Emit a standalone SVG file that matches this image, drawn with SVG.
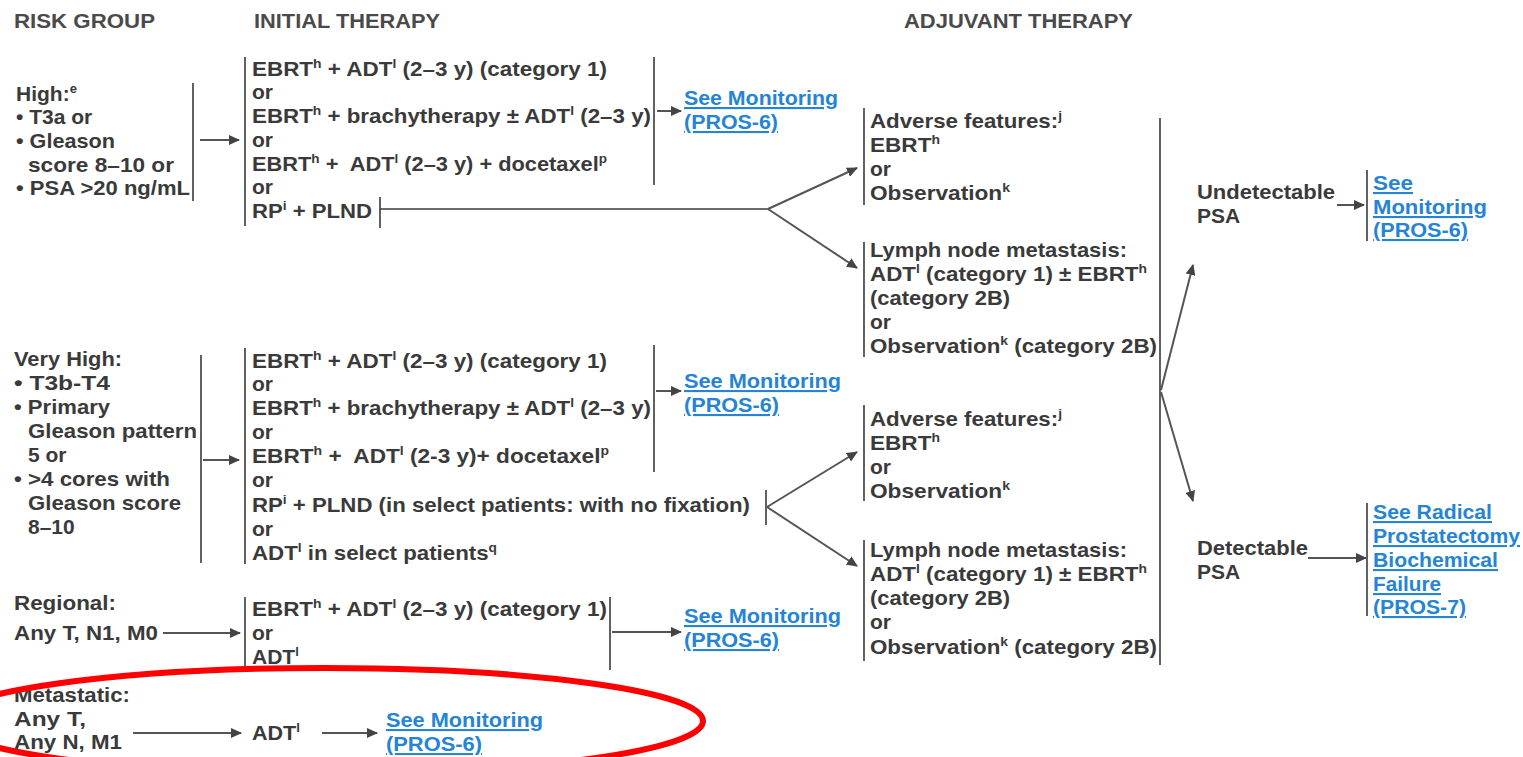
<svg xmlns="http://www.w3.org/2000/svg" width="1523" height="757" viewBox="0 0 1523 757">
<style>
.t{font-family:"Liberation Sans",Arial,sans-serif;font-size:21px;font-weight:bold;fill:#3a3a3a}
.hd{font-family:"Liberation Sans",Arial,sans-serif;font-size:21px;font-weight:bold;fill:#4a4a4a}
.lk{fill:#2584d6;text-decoration:underline}
.s{font-size:13px}
.br{stroke:#3a3a3a;stroke-width:1.6;fill:none}
.ar{stroke:#555;stroke-width:2;fill:none;marker-end:url(#ah)}
.ring{fill:none;stroke:#ff0000;stroke-width:6}
</style>
<defs>
<marker id="ah" markerUnits="userSpaceOnUse" markerWidth="11" markerHeight="10" refX="10" refY="5" orient="auto">
<path d="M0,0 L11,5 L0,10 z" fill="#444"/>
</marker>
</defs>
<rect width="1523" height="757" fill="#ffffff"/>

<g id="headers">
<text class="hd" x="14" y="28" textLength="141" lengthAdjust="spacingAndGlyphs">RISK GROUP</text>
<text class="hd" x="254" y="28" textLength="186" lengthAdjust="spacingAndGlyphs">INITIAL THERAPY</text>
<text class="hd" x="904" y="28" textLength="229" lengthAdjust="spacingAndGlyphs">ADJUVANT THERAPY</text>
</g>

<g id="risk-high">
<text class="t" x="16" y="101">High:<tspan class="s" dy="-8">e</tspan></text>
<text class="t" x="16" y="124">• T3a or</text>
<text class="t" x="16" y="148" textLength="99" lengthAdjust="spacingAndGlyphs">• Gleason</text>
<text class="t" x="28" y="172" textLength="146" lengthAdjust="spacingAndGlyphs">score 8–10 or</text>
<text class="t" x="16" y="195" textLength="174" lengthAdjust="spacingAndGlyphs">• PSA &gt;20 ng/mL</text>
<line class="br" x1="193" y1="83" x2="193" y2="201"/>
</g>

<g id="therapy-high">
<line class="br" x1="245" y1="57" x2="245" y2="226"/>
<text class="t" x="252" y="76" textLength="355" lengthAdjust="spacingAndGlyphs">EBRT<tspan class="s" dy="-8">h</tspan><tspan dy="8"> + ADT</tspan><tspan class="s" dy="-8">l</tspan><tspan dy="8"> (2–3 y) (category 1)</tspan></text>
<text class="t" x="252" y="99">or</text>
<text class="t" x="252" y="123" textLength="399" lengthAdjust="spacingAndGlyphs">EBRT<tspan class="s" dy="-8">h</tspan><tspan dy="8"> + brachytherapy ± ADT</tspan><tspan class="s" dy="-8">l</tspan><tspan dy="8"> (2–3 y)</tspan></text>
<text class="t" x="252" y="147">or</text>
<text class="t" x="252" y="171" textLength="355" lengthAdjust="spacingAndGlyphs">EBRT<tspan class="s" dy="-8">h</tspan><tspan dy="8"> +&#160; ADT</tspan><tspan class="s" dy="-8">l</tspan><tspan dy="8"> (2–3 y) + docetaxel</tspan><tspan class="s" dy="-8">p</tspan></text>
<text class="t" x="252" y="194">or</text>
<text class="t" x="252" y="218" textLength="120" lengthAdjust="spacingAndGlyphs">RP<tspan class="s" dy="-8">i</tspan><tspan dy="8"> + PLND</tspan></text>
<line class="br" x1="654" y1="57" x2="654" y2="185"/>
<line class="br" x1="380" y1="197" x2="380" y2="228"/>
</g>

<g id="mon-high">
<text class="t lk" x="684" y="105" textLength="154" lengthAdjust="spacingAndGlyphs">See Monitoring</text>
<text class="t lk" x="684" y="129" textLength="94" lengthAdjust="spacingAndGlyphs">(PROS-6)</text>
</g>

<g id="adverse-1">
<line class="br" x1="864" y1="108" x2="864" y2="205"/>
<text class="t" x="870" y="128" textLength="192" lengthAdjust="spacingAndGlyphs">Adverse features:<tspan class="s" dy="-8">j</tspan></text>
<text class="t" x="870" y="152" textLength="70" lengthAdjust="spacingAndGlyphs">EBRT<tspan class="s" dy="-8">h</tspan></text>
<text class="t" x="870" y="176">or</text>
<text class="t" x="870" y="200" textLength="140" lengthAdjust="spacingAndGlyphs">Observation<tspan class="s" dy="-8">k</tspan></text>
</g>

<g id="lymph-1">
<line class="br" x1="864" y1="242" x2="864" y2="357"/>
<text class="t" x="870" y="257" textLength="257" lengthAdjust="spacingAndGlyphs">Lymph node metastasis:</text>
<text class="t" x="870" y="281" textLength="277" lengthAdjust="spacingAndGlyphs">ADT<tspan class="s" dy="-8">l</tspan><tspan dy="8"> (category 1) ± EBRT</tspan><tspan class="s" dy="-8">h</tspan></text>
<text class="t" x="870" y="305" textLength="140" lengthAdjust="spacingAndGlyphs">(category 2B)</text>
<text class="t" x="870" y="329">or</text>
<text class="t" x="870" y="353" textLength="287" lengthAdjust="spacingAndGlyphs">Observation<tspan class="s" dy="-8">k</tspan><tspan dy="8"> (category 2B)</tspan></text>
</g>

<g id="risk-veryhigh">
<text class="t" x="14" y="366" textLength="108" lengthAdjust="spacingAndGlyphs">Very High:</text>
<text class="t" x="14" y="390" textLength="96" lengthAdjust="spacingAndGlyphs">• T3b-T4</text>
<text class="t" x="14" y="414" textLength="96" lengthAdjust="spacingAndGlyphs">• Primary</text>
<text class="t" x="28" y="438" textLength="169" lengthAdjust="spacingAndGlyphs">Gleason pattern</text>
<text class="t" x="28" y="462">5 or</text>
<text class="t" x="14" y="486" textLength="156" lengthAdjust="spacingAndGlyphs">• &gt;4 cores with</text>
<text class="t" x="28" y="510" textLength="153" lengthAdjust="spacingAndGlyphs">Gleason score</text>
<text class="t" x="28" y="534">8–10</text>
<line class="br" x1="201" y1="355" x2="201" y2="563"/>
</g>

<g id="therapy-veryhigh">
<line class="br" x1="245" y1="348" x2="245" y2="564"/>
<text class="t" x="252" y="368" textLength="355" lengthAdjust="spacingAndGlyphs">EBRT<tspan class="s" dy="-8">h</tspan><tspan dy="8"> + ADT</tspan><tspan class="s" dy="-8">l</tspan><tspan dy="8"> (2–3 y) (category 1)</tspan></text>
<text class="t" x="252" y="391">or</text>
<text class="t" x="252" y="415" textLength="399" lengthAdjust="spacingAndGlyphs">EBRT<tspan class="s" dy="-8">h</tspan><tspan dy="8"> + brachytherapy ± ADT</tspan><tspan class="s" dy="-8">l</tspan><tspan dy="8"> (2–3 y)</tspan></text>
<text class="t" x="252" y="439">or</text>
<text class="t" x="252" y="463" textLength="357" lengthAdjust="spacingAndGlyphs">EBRT<tspan class="s" dy="-8">h</tspan><tspan dy="8"> +&#160; ADT</tspan><tspan class="s" dy="-8">l</tspan><tspan dy="8"> (2-3 y)+ docetaxel</tspan><tspan class="s" dy="-8">p</tspan></text>
<text class="t" x="252" y="487">or</text>
<text class="t" x="252" y="512" textLength="498" lengthAdjust="spacingAndGlyphs">RP<tspan class="s" dy="-8">i</tspan><tspan dy="8"> + PLND (in select patients: with no fixation)</tspan></text>
<text class="t" x="252" y="536">or</text>
<text class="t" x="252" y="560" textLength="245" lengthAdjust="spacingAndGlyphs">ADT<tspan class="s" dy="-8">l</tspan><tspan dy="8"> in select patients</tspan><tspan class="s" dy="-8">q</tspan></text>
<line class="br" x1="654" y1="345" x2="654" y2="472"/>
<line class="br" x1="766" y1="490" x2="766" y2="525"/>
</g>

<g id="mon-veryhigh">
<text class="t lk" x="684" y="388" textLength="157" lengthAdjust="spacingAndGlyphs">See Monitoring</text>
<text class="t lk" x="684" y="412" textLength="95" lengthAdjust="spacingAndGlyphs">(PROS-6)</text>
</g>

<g id="adverse-2">
<line class="br" x1="864" y1="405" x2="864" y2="501"/>
<text class="t" x="870" y="426" textLength="192" lengthAdjust="spacingAndGlyphs">Adverse features:<tspan class="s" dy="-8">j</tspan></text>
<text class="t" x="870" y="450" textLength="70" lengthAdjust="spacingAndGlyphs">EBRT<tspan class="s" dy="-8">h</tspan></text>
<text class="t" x="870" y="474">or</text>
<text class="t" x="870" y="498" textLength="140" lengthAdjust="spacingAndGlyphs">Observation<tspan class="s" dy="-8">k</tspan></text>
</g>

<g id="lymph-2">
<line class="br" x1="864" y1="540" x2="864" y2="661"/>
<text class="t" x="870" y="557" textLength="257" lengthAdjust="spacingAndGlyphs">Lymph node metastasis:</text>
<text class="t" x="870" y="581" textLength="277" lengthAdjust="spacingAndGlyphs">ADT<tspan class="s" dy="-8">l</tspan><tspan dy="8"> (category 1) ± EBRT</tspan><tspan class="s" dy="-8">h</tspan></text>
<text class="t" x="870" y="605" textLength="140" lengthAdjust="spacingAndGlyphs">(category 2B)</text>
<text class="t" x="870" y="629">or</text>
<text class="t" x="870" y="654" textLength="287" lengthAdjust="spacingAndGlyphs">Observation<tspan class="s" dy="-8">k</tspan><tspan dy="8"> (category 2B)</tspan></text>
</g>

<g id="adjuvant-bracket">
<line class="br" x1="1160" y1="118" x2="1160" y2="665"/>
</g>

<g id="undetectable">
<text class="t" x="1197" y="199" textLength="138" lengthAdjust="spacingAndGlyphs">Undetectable</text>
<text class="t" x="1197" y="223">PSA</text>
</g>

<g id="mon-undetectable">
<line class="br" x1="1367" y1="170" x2="1367" y2="241"/>
<text class="t lk" x="1373" y="190" textLength="40" lengthAdjust="spacingAndGlyphs">See</text>
<text class="t lk" x="1373" y="214" textLength="114" lengthAdjust="spacingAndGlyphs">Monitoring</text>
<text class="t lk" x="1373" y="237" textLength="95" lengthAdjust="spacingAndGlyphs">(PROS-6)</text>
</g>

<g id="detectable">
<text class="t" x="1197" y="555" textLength="111" lengthAdjust="spacingAndGlyphs">Detectable</text>
<text class="t" x="1197" y="579">PSA</text>
</g>

<g id="rp-failure">
<line class="br" x1="1367" y1="503" x2="1367" y2="616"/>
<text class="t lk" x="1373" y="519" textLength="119" lengthAdjust="spacingAndGlyphs">See Radical</text>
<text class="t lk" x="1373" y="543" textLength="147" lengthAdjust="spacingAndGlyphs">Prostatectomy</text>
<text class="t lk" x="1373" y="567" textLength="125" lengthAdjust="spacingAndGlyphs">Biochemical</text>
<text class="t lk" x="1373" y="591" textLength="68" lengthAdjust="spacingAndGlyphs">Failure</text>
<text class="t lk" x="1373" y="614" textLength="93" lengthAdjust="spacingAndGlyphs">(PROS-7)</text>
</g>

<g id="risk-regional">
<text class="t" x="14" y="610" textLength="102" lengthAdjust="spacingAndGlyphs">Regional:</text>
<text class="t" x="14" y="640" textLength="144" lengthAdjust="spacingAndGlyphs">Any T, N1, M0</text>
</g>

<g id="therapy-regional">
<line class="br" x1="245" y1="597" x2="245" y2="670"/>
<text class="t" x="252" y="616" textLength="355" lengthAdjust="spacingAndGlyphs">EBRT<tspan class="s" dy="-8">h</tspan><tspan dy="8"> + ADT</tspan><tspan class="s" dy="-8">l</tspan><tspan dy="8"> (2–3 y) (category 1)</tspan></text>
<text class="t" x="252" y="640">or</text>
<text class="t" x="252" y="664">ADT<tspan class="s" dy="-8">l</tspan></text>
<line class="br" x1="610" y1="597" x2="610" y2="670"/>
</g>

<g id="mon-regional">
<text class="t lk" x="684" y="623" textLength="157" lengthAdjust="spacingAndGlyphs">See Monitoring</text>
<text class="t lk" x="684" y="647" textLength="95" lengthAdjust="spacingAndGlyphs">(PROS-6)</text>
</g>

<g id="risk-metastatic">
<text class="t" x="14" y="702" textLength="116" lengthAdjust="spacingAndGlyphs">Metastatic:</text>
<text class="t" x="14" y="726" textLength="72" lengthAdjust="spacingAndGlyphs">Any T,</text>
<text class="t" x="14" y="749" textLength="108" lengthAdjust="spacingAndGlyphs">Any N, M1</text>
</g>

<g id="therapy-metastatic">
<text class="t" x="252" y="740" textLength="48" lengthAdjust="spacingAndGlyphs">ADT<tspan class="s" dy="-8">l</tspan></text>
</g>

<g id="mon-metastatic">
<text class="t lk" x="386" y="727" textLength="157" lengthAdjust="spacingAndGlyphs">See Monitoring</text>
<text class="t lk" x="386" y="751" textLength="96" lengthAdjust="spacingAndGlyphs">(PROS-6)</text>
</g>

<g id="connectors">
<line class="ar" x1="200" y1="140" x2="239" y2="140"/>
<line class="ar" x1="657" y1="111" x2="681" y2="111"/>
<line class="br" x1="380" y1="209" x2="768" y2="209"/>
<line class="ar" x1="768" y1="209" x2="857" y2="168"/>
<line class="ar" x1="768" y1="209" x2="857" y2="268"/>
<line class="ar" x1="203" y1="460" x2="239" y2="460"/>
<line class="ar" x1="656" y1="391" x2="681" y2="391"/>
<line class="ar" x1="767" y1="507" x2="857" y2="452"/>
<line class="ar" x1="767" y1="507" x2="857" y2="566"/>
<line class="ar" x1="1161" y1="390" x2="1193" y2="265"/>
<line class="ar" x1="1161" y1="392" x2="1193" y2="501"/>
<line class="ar" x1="1337" y1="205" x2="1364" y2="205"/>
<line class="ar" x1="1308" y1="558" x2="1366" y2="558"/>
<line class="ar" x1="163" y1="633" x2="240" y2="633"/>
<line class="ar" x1="612" y1="632" x2="681" y2="632"/>
<line class="ar" x1="133" y1="733" x2="241" y2="733"/>
<line class="ar" x1="322" y1="733" x2="377" y2="733"/>
</g>

<ellipse class="ring" cx="325" cy="721" rx="378" ry="53"/>
</svg>
